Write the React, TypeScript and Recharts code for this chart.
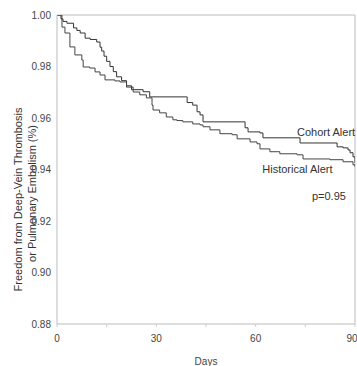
import React from 'react';
import {
  LineChart,
  Line,
  XAxis,
  YAxis,
  ReferenceLine,
  ReferenceDot,
} from 'recharts';

// Kaplan-Meier steps: [day, freedom]
const cohortDays = [0, 1.2, 1.8, 3, 5, 6, 7, 8.5, 10, 12, 13, 13.5, 14.2, 15, 16, 17, 18, 19.5, 21, 22.5, 26, 28, 38.7, 39.3, 41, 42.3, 43.2, 44.1, 55.9, 56.8, 57.7, 61.3, 62.2, 72.5, 73.4, 83.4, 84.6, 86.4, 87.9, 88.5, 89.4, 90];
const cohortValues = [1.0, 0.9985, 0.9975, 0.9968, 0.995, 0.994, 0.993, 0.991, 0.9905, 0.9895, 0.9875, 0.986, 0.984, 0.982, 0.98, 0.978, 0.976, 0.9745, 0.9725, 0.971, 0.9702, 0.9682, 0.9682, 0.966, 0.965, 0.9624, 0.9612, 0.9585, 0.9585, 0.9562, 0.9546, 0.9542, 0.9523, 0.9523, 0.9503, 0.9503, 0.9488, 0.9484, 0.9476, 0.9465, 0.9449, 0.9426];

const historicalDays = [0, 1.5, 2.4, 3.9, 5.4, 7.5, 7.9, 9.9, 11.5, 13, 14.5, 17.5, 19, 21, 23, 25, 27, 28.7, 29, 31, 33, 35, 36.2, 38, 41, 43.2, 44.1, 46.2, 49.2, 52.9, 54.4, 58.3, 60.4, 61.3, 64.3, 67.3, 72.5, 74.3, 82.4, 86.4, 89.4, 90];
const historicalValues = [1.0, 0.9953, 0.993, 0.9876, 0.9845, 0.9825, 0.9798, 0.9794, 0.9779, 0.9767, 0.9748, 0.9744, 0.974, 0.972, 0.9701, 0.969, 0.9678, 0.965, 0.9631, 0.962, 0.9604, 0.9593, 0.959, 0.9585, 0.9577, 0.9573, 0.9566, 0.9554, 0.9539, 0.9535, 0.9519, 0.9507, 0.95, 0.948, 0.9469, 0.9461, 0.9457, 0.9441, 0.9438, 0.943, 0.9418, 0.941];

const xTicks = [0, 15, 30, 45, 60, 75, 90];
const yTicks = [0.88, 0.9, 0.92, 0.94, 0.96, 0.98, 1.0];

const cohortData = cohortDays.map((d, i) => ({ day: d, value: cohortValues[i] }));
const historicalData = historicalDays.map((d, i) => ({ day: d, value: historicalValues[i] }));

const font = "'Liberation Sans Narrow', 'Liberation Sans', Arial, sans-serif";
const labelFont = "'Liberation Sans', Arial, sans-serif";

const TextAt = (text: string) => (props: any) => {
  const { viewBox } = props;
  return (
    <text x={viewBox.x} y={viewBox.y} fontSize={11} fontFamily={labelFont} fill="#333" textAnchor="start">
      {text}
    </text>
  );
};

const YTitle = (props: any) => {
  const { viewBox } = props;
  const cy = viewBox.y + viewBox.height / 2 + 30;
  return (
    <g fontSize={11} fontFamily={labelFont} fill="#333" textAnchor="middle">
      <text transform={`translate(22, ${cy}) rotate(-90)`}>Freedom from Deep-Vein Thrombosis</text>
      <text transform={`translate(36, ${cy - 6}) rotate(-90)`}>or Pulmonary Embolism (%)</text>
    </g>
  );
};

export default function App() {
  return (
    <div style={{ position: 'absolute', left: 0, top: 0, background: '#fff' }}>
      <LineChart width={357} height={366} margin={{ top: 15, right: 2, bottom: 12, left: 0 }}>
        <XAxis
          type="number"
          dataKey="day"
          domain={[0, 90]}
          ticks={xTicks}
          tickFormatter={(v: number) => (v % 30 === 0 ? String(v) : '')}
          allowDataOverflow
          height={30}
          stroke="#bbb"
          tickLine={{ stroke: '#ccc' }}
          tickSize={3}
          tickMargin={8}
          tick={{ fontSize: 10, fontFamily: font, fill: '#444' }}
          label={{ value: 'Days', position: 'insideBottom', offset: -11, fontSize: 10, fontFamily: font, fill: '#444' }}
        />
        <YAxis
          type="number"
          dataKey="value"
          domain={[0.88, 1.0]}
          ticks={yTicks}
          allowDataOverflow
          width={57}
          stroke="#bbb"
          tickLine={false}
          tickSize={4}
          tickFormatter={(v: number) => v.toFixed(2)}
          tick={{ fontSize: 10, fontFamily: font, fill: '#444' }}
          label={<YTitle />}
        />
        <ReferenceLine y={1.0} stroke="#bbb" />
        <ReferenceLine x={90} stroke="#bbb" />
        <Line
          data={cohortData}
          dataKey="value"
          type="stepAfter"
          stroke="#333"
          strokeWidth={1}
          dot={false}
          isAnimationActive={false}
        />
        <Line
          data={historicalData}
          dataKey="value"
          type="stepAfter"
          stroke="#444"
          strokeWidth={1}
          dot={false}
          isAnimationActive={false}
        />
        <ReferenceDot x={72.5} y={0.953} r={0} label={TextAt('Cohort Alert')} />
        <ReferenceDot x={62} y={0.9387} r={0} label={TextAt('Historical Alert')} />
        <ReferenceDot x={77} y={0.9282} r={0} label={TextAt('p=0.95')} />
      </LineChart>
    </div>
  );
}
